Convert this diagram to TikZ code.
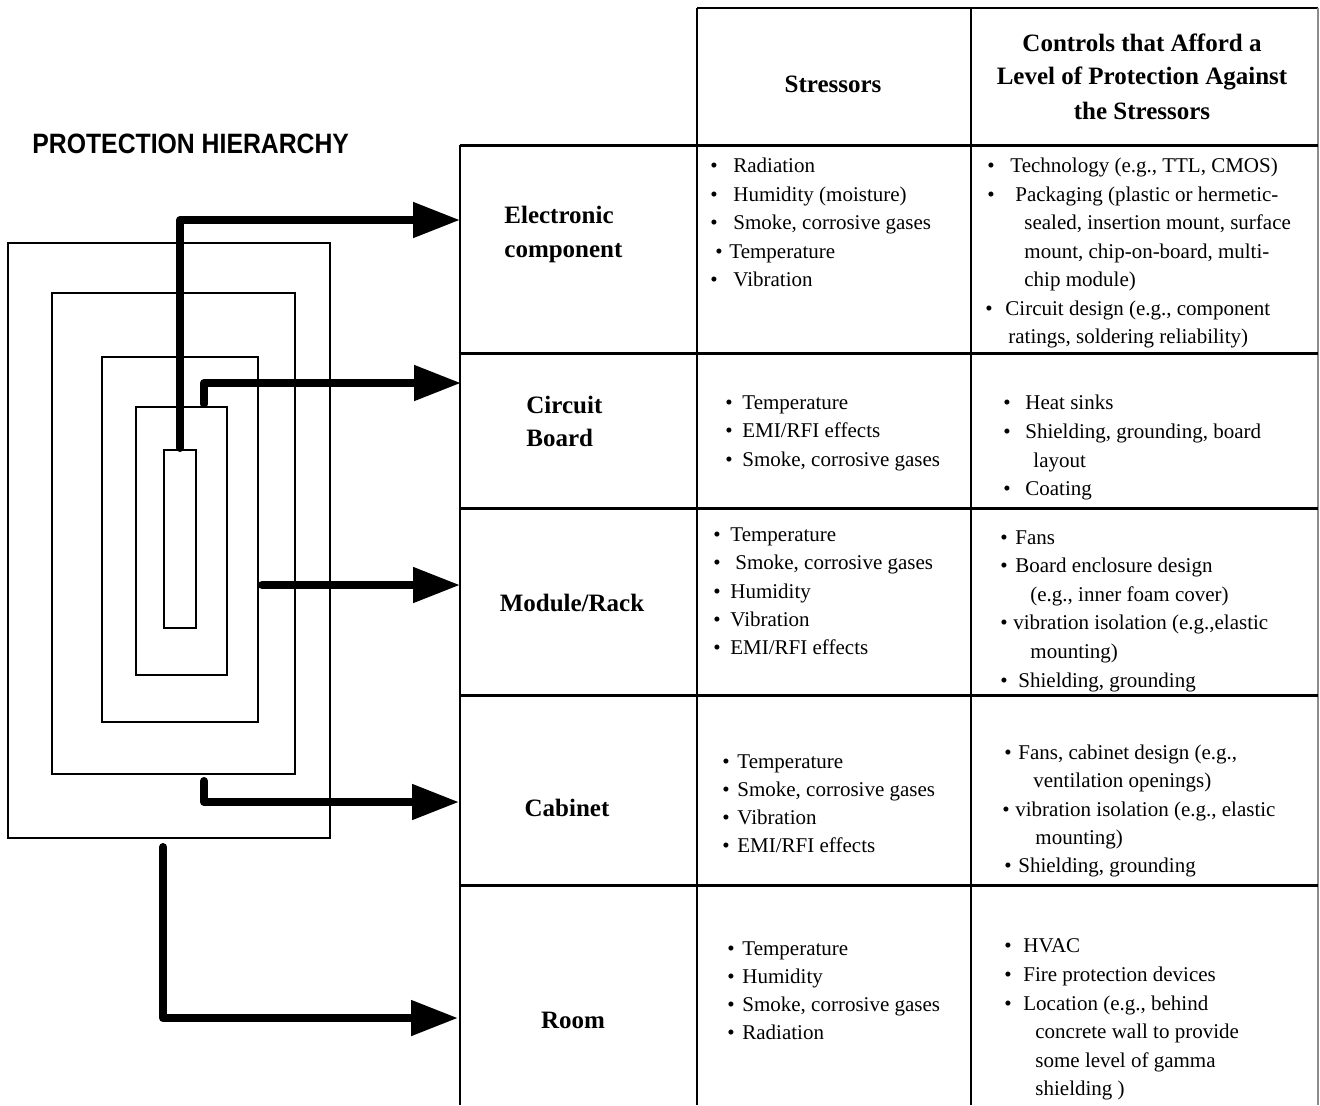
\documentclass[tikz,border=0pt]{standalone}
\usepackage{fontspec}
\setmainfont{Liberation Serif}
\newfontfamily\titlefont[FakeStretch=0.885]{Liberation Sans}
\usetikzlibrary{arrows.meta}
\newcommand\bitem[5]{\node[txt] (#1) at ({#2-3},{#4+7}) {\makebox[\dimexpr(#3pt-#2pt+3pt)/2\relax][l]{\textbullet}#5};}
\newcommand\citem[4]{\node[txt] (#1) at (#2,{#3+7}) {#4};}
\begin{document}
\begin{tikzpicture}[x=0.5pt,y=-0.5pt,
  txt/.style={anchor=base west, inner sep=0pt, font=\fontsize{10.5}{12}\selectfont},
  lab/.style={anchor=base west, inner sep=0pt, font=\fontsize{12.5}{15}\selectfont\bfseries},
  labc/.style={lab, anchor=base},
  hbox/.style={draw, line width=1pt, inner sep=0pt, fill=none},
  bigarrow/.style={line width=4pt, line cap=round, line join=round, -{Triangle[length=23.5pt,width=17pt]}},
  rowline/.style={line width=1.5pt},
  colline/.style={line width=1pt}]
\useasboundingbox (0,0) rectangle (1320,1105);

% title
\node[anchor=base west, inner sep=0pt, font=\titlefont\fontsize{14}{16}\selectfont\bfseries] (title) at (32,153) {PROTECTION HIERARCHY};

% nested boxes
\node[hbox, minimum width=161pt, minimum height=297.5pt] (r1) at (169,540.5) {};
\node[hbox, minimum width=121.5pt, minimum height=240.5pt] (r2) at (173.5,533.5) {};
\node[hbox, minimum width=78pt, minimum height=182.5pt] (r3) at (180,539.5) {};
\node[hbox, minimum width=45.5pt, minimum height=134pt] (r4) at (181.5,541) {};
\node[hbox, minimum width=16pt, minimum height=89pt] (r5) at (180,539) {};

% table grid
\coordinate (tl) at (697,8);
\coordinate (tr) at (1318,8);
\draw[colline] (tl) -- (tr);
\draw[colline] (460,145) -- (460,1105);
\draw[colline] (697,8) -- (697,1105);
\draw[colline] (971,8) -- (971,1105);
\draw[line width=0.6pt, black!45] (1318,8) -- (1318,1105);
\foreach \yy in {145,353,508,695,885} \draw[rowline] (460,\yy) -- (1318,\yy);

% arrows
\coordinate (s1) at (180,448); \coordinate (k1) at (180,220); \coordinate (t1) at (460,220);
\coordinate (s2) at (204,404); \coordinate (k2) at (204,383); \coordinate (t2) at (461,383);
\coordinate (s3) at (262,585); \coordinate (t3) at (460,585);
\coordinate (s4) at (204,781); \coordinate (k4) at (204,802); \coordinate (t4) at (459,802);
\coordinate (s5) at (163,847); \coordinate (k5) at (163,1018); \coordinate (t5) at (458,1018);
\draw[bigarrow] (s1) -- (k1) -- (t1);
\draw[bigarrow] (s2) -- (k2) -- (t2);
\draw[bigarrow] (s3) -- (t3);
\draw[bigarrow] (s4) -- (k4) -- (t4);
\draw[bigarrow] (s5) -- (k5) -- (t5);

% header
\node[labc] (h1) at (833,92) {Stressors};
\node[labc] (h2a) at (1142,51) {Controls that Afford a};
\node[labc] (h2b) at (1142,84) {Level of Protection Against};
\node[labc] (h2c) at (1142,119) {the Stressors};

% row labels
\node[lab] (l1a) at (504,223) {Electronic};
\node[lab] (l1b) at (504,257) {component};
\node[lab] (l2a) at (526,413) {Circuit};
\node[lab] (l2b) at (526,446) {Board};
\node[labc] (l3) at (572,611) {Module/Rack};
\node[labc] (l4) at (567,816) {Cabinet};
\node[labc] (l5) at (573,1028) {Room};

% row 1
\bitem{a1}{713}{733}{165}{Radiation}
\bitem{a2}{713}{733}{194}{Humidity (moisture)}
\bitem{a3}{713}{733}{222}{Smoke, corrosive gases}
\bitem{a4}{718}{729}{251}{Temperature}
\bitem{a5}{713}{733}{279}{Vibration}
\bitem{b1}{990}{1010}{165}{Technology (e.g., TTL, CMOS)}
\bitem{b2}{990}{1015}{194}{Packaging (plastic or hermetic-}
\citem{b3}{1024}{222}{sealed, insertion mount, surface}
\citem{b4}{1024}{251}{mount, chip-on-board, multi-}
\citem{b5}{1024}{279}{chip module)}
\bitem{b6}{988}{1005}{308}{Circuit design (e.g., component}
\citem{b7}{1008}{336}{ratings, soldering reliability)}

% row 2
\bitem{c1}{728}{742}{402}{Temperature}
\bitem{c2}{728}{742}{430}{EMI/RFI effects}
\bitem{c3}{728}{742}{459}{Smoke, corrosive gases}
\bitem{d1}{1006}{1025}{402}{Heat sinks}
\bitem{d2}{1006}{1025}{431}{Shielding, grounding, board}
\citem{d3}{1033}{460}{layout}
\bitem{d4}{1006}{1025}{488}{Coating}

% row 3
\bitem{e1}{716}{730}{534}{Temperature}
\bitem{e2}{716}{735}{562}{Smoke, corrosive gases}
\bitem{e3}{716}{730}{591}{Humidity}
\bitem{e4}{716}{730}{619}{Vibration}
\bitem{e5}{716}{730}{647}{EMI/RFI effects}
\bitem{f1}{1003}{1015}{537}{Fans}
\bitem{f2}{1003}{1015}{565}{Board enclosure design}
\citem{f3}{1030}{594}{(e.g., inner foam cover)}
\bitem{f4}{1003}{1013}{622}{vibration isolation (e.g.,elastic}
\citem{f5}{1030}{651}{mounting)}
\bitem{f6}{1003}{1018}{680}{Shielding, grounding}

% row 4
\bitem{g1}{725}{737}{761}{Temperature}
\bitem{g2}{725}{737}{789}{Smoke, corrosive gases}
\bitem{g3}{725}{737}{817}{Vibration}
\bitem{g4}{725}{737}{845}{EMI/RFI effects}
\bitem{h1i}{1007}{1018}{752}{Fans, cabinet design (e.g.,}
\citem{h2i}{1033}{780}{ventilation openings)}
\bitem{h3i}{1005}{1015}{809}{vibration isolation (e.g., elastic}
\citem{h4i}{1035}{837}{mounting)}
\bitem{h5i}{1007}{1018}{865}{Shielding, grounding}

% row 5
\bitem{i1}{730}{742}{948}{Temperature}
\bitem{i2}{730}{742}{976}{Humidity}
\bitem{i3}{730}{742}{1004}{Smoke, corrosive gases}
\bitem{i4}{730}{742}{1032}{Radiation}
\bitem{j1}{1007}{1023}{945}{HVAC}
\bitem{j2}{1007}{1023}{974}{Fire protection devices}
\bitem{j3}{1007}{1023}{1003}{Location (e.g., behind}
\citem{j4}{1035}{1031}{concrete wall to provide}
\citem{j5}{1035}{1060}{some level of gamma}
\citem{j6}{1035}{1088}{shielding )}
\end{tikzpicture}
\end{document}
